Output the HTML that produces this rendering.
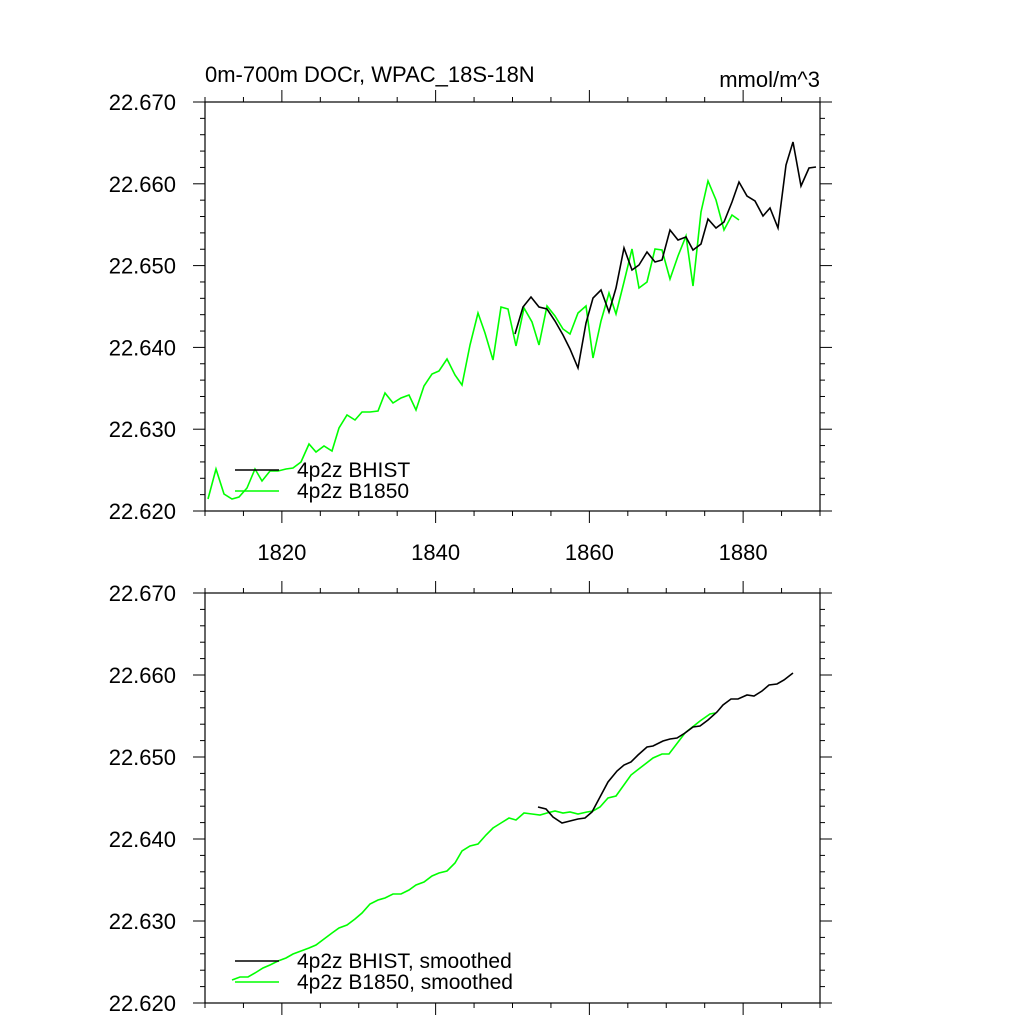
<!DOCTYPE html>
<html><head><meta charset="utf-8"><style>body{margin:0;background:#fff}svg{display:block}</style></head>
<body>
<svg id="s" width="1024" height="1024" xmlns="http://www.w3.org/2000/svg" font-family="Liberation Sans, sans-serif">
<rect width="1024" height="1024" fill="#fff"/>
<text x="205" y="82" font-size="22">0m-700m DOCr, WPAC_18S-18N</text>
<text x="820" y="87" font-size="22" text-anchor="end">mmol/m^3</text>
<g id="ax"></g>
<polyline fill="none" stroke="#00ff00" stroke-width="1.6" points="208,499 216,469 224,494 232,499 239,497 247,488 255,469 262,481 270,471 278,471 286,469 293,468 301,462 309,444 316,452 324,446 332,451 339,428 347,415 355,420 362,412 370,412 378,411 385,393 393,403 401,398 409,395 416,410 424,386 432,374 439,371 447,359 455,375 462,385 470,345 478,313 485,333 493,360 501,307 508,309 516,346 524,308 532,322 539,345 547,306 555,316 563,329 570,334 578,313 586,306 593,358 601,321 609,293 616,314 624,282 632,249 639,288 647,282 655,249 662,250 670,279 678,256 686,236 693,286 701,212 708,181 716,200 724,230 732,215 739,220"/>
<polyline fill="none" stroke="#000" stroke-width="1.6" points="515,334 523,307 531,297 539,307 547,309 555,321 563,335 570,349 578,368 586,323 593,298 601,290 609,312 616,288 624,248 632,270 639,265 647,252 655,262 662,260 670,230 678,240 686,237 693,250 701,244 708,219 716,228 724,222 732,202 739,182 747,196 755,201 763,216 770,208 778,228 786,165 793,142 801,186 809,168 816,167"/>
<polyline fill="none" stroke="#00ff00" stroke-width="1.6" points="232,980 240,977 248,977 255,973 263,968 270,965 278,961 286,958 293,954 301,951 309,948 316,945 324,939 332,933 339,928 347,925 355,919 362,913 370,904 378,900 385,898 393,894 401,894 409,890 416,885 424,882 432,876 439,873 447,871 455,863 462,851 470,846 478,844 486,835 493,828 501,823 509,818 516,820 524,813 532,814 540,815 547,813 555,811 563,813 570,812 578,814 587,812 593,811 600,807 608,798 616,796 631,775 653,758 662,754 669,754 685,733 700,721 710,714 715,713"/>
<polyline fill="none" stroke="#000" stroke-width="1.6" points="538,807 546,809 553,817 562,823 570,821 578,819 585,818 592,812 600,797 608,782 617,771 624,765 631,762 638,755 647,747 653,746 663,741 670,739 677,738 685,733 693,727 700,726 708,720 717,712 723,705 731,699 738,699 747,695 754,696 762,691 769,685 777,684 784,680 793,673"/>
<line x1="235" y1="470" x2="279" y2="470" stroke="#000" stroke-width="1.6"/>
<line x1="235" y1="491" x2="279" y2="491" stroke="#00ff00" stroke-width="1.6"/>
<text x="297" y="477" font-size="21">4p2z BHIST</text>
<text x="297" y="498" font-size="21">4p2z B1850</text>
<line x1="235" y1="961" x2="279" y2="961" stroke="#000" stroke-width="1.6"/>
<line x1="235" y1="982" x2="279" y2="982" stroke="#00ff00" stroke-width="1.6"/>
<text x="297" y="968" font-size="21">4p2z BHIST, smoothed</text>
<text x="297" y="989" font-size="21">4p2z B1850, smoothed</text>
</svg>
<script>
var g=document.getElementById('ax'),h='';
function L(a,b,c,d){h+='<line x1="'+a+'" y1="'+b+'" x2="'+c+'" y2="'+d+'" stroke="#000" stroke-width="1"/>';}
[[102,511],[593,1003]].forEach(function(p,pi){
 var t=p[0],b=p[1],l=205,r=820;
 h+='<rect x="'+l+'" y="'+t+'" width="'+(r-l)+'" height="'+(b-t)+'" fill="none" stroke="#000" stroke-width="1.2"/>';
 for(var i=0;i<=16;i++){var x=l+(r-l)*i/16,maj=(i%4==2);var len=maj?12:5;L(x,t,x,t-len);L(x,b,x,b+len);
  if(maj&&pi==0)h+='<text x="'+x+'" y="560" font-size="22" text-anchor="middle">'+(1810+i*5)+'</text>';}
 for(var j=0;j<=25;j++){var y=b-(b-t)*j/25,maj=(j%5==0),len=maj?12:5;L(l,y,l-len,y);L(r,y,r+len,y);
  if(maj)h+='<text x="176" y="'+(y+8)+'" font-size="22" text-anchor="end">'+(22.62+j*0.002).toFixed(3)+'</text>';}
});
g.innerHTML=h;
</script>
</body></html>
